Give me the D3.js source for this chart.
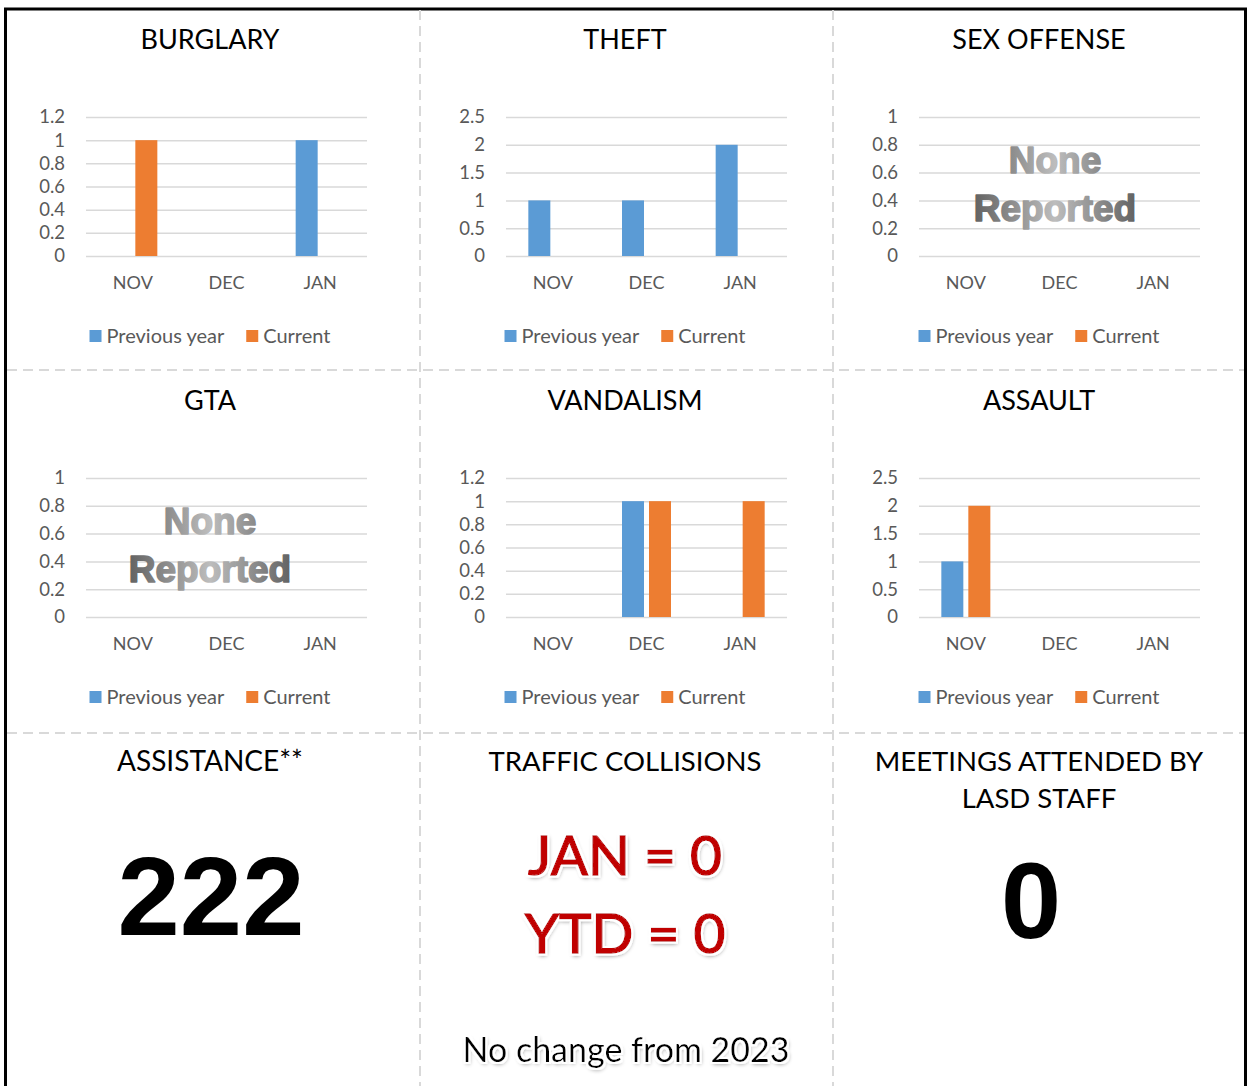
<!DOCTYPE html>
<meta charset="utf-8">
<script src="https://d3js.org/d3.v7.min.js"></script>
<style>
  body { margin: 0; background: #fff; }
  text { font-family: Lato, "Open Sans", sans-serif; }
</style>
<div id="my_dataviz"></div>
<script>
// Datos de las graficas.
var months = ["NOV", "DEC", "JAN"];
var seriesNames = ["Previous year", "Current"];
var chartTitles = ["BURGLARY", "THEFT", "SEX OFFENSE", "GTA", "VANDALISM", "ASSAULT"];

var burglaryPrev = [0, 0, 1],  burglaryCurr = [1, 0, 0];
var theftPrev = [1, 1, 2],     theftCurr = [0, 0, 0];
var sexPrev = [0, 0, 0],       sexCurr = [0, 0, 0];
var gtaPrev = [0, 0, 0],       gtaCurr = [0, 0, 0];
var vandalismPrev = [0, 1, 0], vandalismCurr = [0, 1, 1];
var assaultPrev = [1, 0, 0],   assaultCurr = [2, 0, 0];

var ticksA = [0, 0.2, 0.4, 0.6, 0.8, 1, 1.2];
var ticksB = [0, 0.5, 1, 1.5, 2, 2.5];
var ticksC = [0, 0.2, 0.4, 0.6, 0.8, 1];

var noneReported = [false, false, true, true, false, false];

var assistanceValue = "222";
var meetingsValue = "0";
var trafficLines = ["JAN = 0", "YTD = 0"];
var trafficNote = "No change from 2023";

var colors = ["#5b9bd5", "#ed7d31"];

var charts = [
  {prev: burglaryPrev, curr: burglaryCurr, ticks: ticksA},
  {prev: theftPrev, curr: theftCurr, ticks: ticksB},
  {prev: sexPrev, curr: sexCurr, ticks: ticksC},
  {prev: gtaPrev, curr: gtaCurr, ticks: ticksC},
  {prev: vandalismPrev, curr: vandalismCurr, ticks: ticksA},
  {prev: assaultPrev, curr: assaultCurr, ticks: ticksB}
];

// Disposicion general.
var W = 1248, H = 1086;
var colCenter = [210, 625, 1039];
var plotLeft = [86, 506, 919];
var plotW = 281;
var rowOffset = [0, 361];

var svg = d3.select("#my_dataviz")
  .append("svg")
  .attr("width", W)
  .attr("height", H);

var defs = svg.append("defs");

// Filtro: contorno blanco con sombra suave.
var glow = defs.append("filter").attr("id", "glow")
  .attr("x", "-10%").attr("y", "-20%").attr("width", "120%").attr("height", "150%");
glow.append("feGaussianBlur").attr("in", "SourceAlpha").attr("stdDeviation", 2).attr("result", "b");
glow.append("feOffset").attr("in", "b").attr("dx", 1).attr("dy", 2).attr("result", "o");
glow.append("feComponentTransfer").attr("in", "o").attr("result", "sh")
  .append("feFuncA").attr("type", "linear").attr("slope", 0.5);
glow.append("feMorphology").attr("in", "SourceAlpha").attr("operator", "dilate").attr("radius", 2).attr("result", "d");
glow.append("feFlood").attr("flood-color", "#fff").attr("result", "w");
glow.append("feComposite").attr("in", "w").attr("in2", "d").attr("operator", "in").attr("result", "wd");
var m = glow.append("feMerge");
m.append("feMergeNode").attr("in", "sh");
m.append("feMergeNode").attr("in", "wd");
m.append("feMergeNode").attr("in", "SourceGraphic");

svg.append("rect").attr("width", W).attr("height", H).attr("fill", "#fff");

// Marco exterior.
svg.append("path")
  .attr("d", "M5.5," + H + "V9H1245.5V" + H)
  .attr("fill", "none")
  .attr("stroke", "#000")
  .attr("stroke-width", 3);

// Divisiones punteadas.
var grid = svg.append("g")
  .attr("stroke", "#d9d9d9")
  .attr("stroke-width", 2)
  .attr("stroke-dasharray", "10,6");
[420, 833].forEach(function(x) {
  grid.append("line").attr("x1", x).attr("x2", x).attr("y1", 10).attr("y2", H);
});
[370, 733].forEach(function(y) {
  grid.append("line").attr("x1", 7).attr("x2", 1244).attr("y1", y).attr("y2", y);
});

var x0 = d3.scaleBand().domain(months).range([0, plotW]);
var x1 = d3.scaleBand().domain([0, 1]).range([-24.5, 24.5]).paddingInner(5 / 27);

charts.forEach(function(c, i) {
  var col = i % 3, row = Math.floor(i / 3);
  var off = rowOffset[row];
  var g = svg.append("g");

  g.append("text")
    .attr("x", colCenter[col]).attr("y", 49 + off)
    .attr("text-anchor", "middle")
    .attr("font-size", 27)
    .attr("fill", "#000")
    .text(chartTitles[i]);

  var y = d3.scaleLinear()
    .domain([0, d3.max(c.ticks)])
    .range([256 + off, 117 + off]);

  var p = g.append("g").attr("transform", "translate(" + plotLeft[col] + ",0)");

  // Lineas de la cuadricula.
  p.append("g")
    .call(d3.axisLeft(y).tickValues(c.ticks).tickSize(-plotW).tickFormat(""))
    .call(function(a) {
      a.select(".domain").remove();
      a.selectAll("line").attr("stroke", "#d9d9d9").attr("stroke-width", 1.5);
    });

  // Etiquetas del eje y.
  p.append("g")
    .attr("transform", "translate(-21,0)")
    .call(d3.axisLeft(y).tickValues(c.ticks).tickSize(0).tickPadding(0).tickFormat(d3.format("")))
    .call(function(a) {
      a.select(".domain").remove();
      a.selectAll("text").attr("font-size", 18.5).attr("fill", "#595959")
        .style("font-family", "Lato, sans-serif");
    });

  // Etiquetas del eje x.
  p.append("g")
    .attr("transform", "translate(0," + (283 + off) + ")")
    .call(d3.axisBottom(x0).tickSize(0).tickPadding(0))
    .call(function(a) {
      a.select(".domain").remove();
      a.selectAll("text").attr("font-size", 18).attr("fill", "#595959")
        .attr("dy", "0.35em")
        .style("font-family", "Lato, sans-serif");
    });

  // Barras.
  var data = [];
  months.forEach(function(mo, k) {
    data.push({m: mo, s: 0, v: c.prev[k]});
    data.push({m: mo, s: 1, v: c.curr[k]});
  });
  p.append("g").selectAll("rect")
    .data(data.filter(function(d) { return d.v > 0; }))
    .enter().append("rect")
    .attr("x", function(d) { return x0(d.m) + x0.bandwidth() / 2 + x1(d.s); })
    .attr("width", x1.bandwidth())
    .attr("y", function(d) { return y(d.v); })
    .attr("height", function(d) { return y(0) - y(d.v); })
    .attr("fill", function(d) { return colors[d.s]; });

  // Leyenda.
  var lg = g.append("g");
  var lx = 0;
  seriesNames.forEach(function(n, k) {
    lg.append("rect").attr("x", lx).attr("y", 330 + off).attr("width", 12).attr("height", 12)
      .attr("fill", colors[k]);
    var t = lg.append("text").attr("x", lx + 17).attr("y", 343 + off)
      .attr("font-size", 20).attr("fill", "#595959").text(n);
    lx += 17 + t.node().getComputedTextLength() + 22;
  });
  var bb = lg.node().getBBox();
  lg.attr("transform", "translate(" + (colCenter[col] - bb.x - bb.width / 2) + ",0)");

  // Texto "None Reported".
  if (noneReported[i]) {
    var cx = col === 0 ? 210 : 1055;
    var gid = "gr" + i;
    var gr = defs.append("linearGradient").attr("id", gid)
      .attr("gradientUnits", "userSpaceOnUse")
      .attr("x1", cx - 85).attr("x2", cx + 85).attr("y1", 0).attr("y2", 0);
    gr.append("stop").attr("offset", "0%").attr("stop-color", "#5e5e5e");
    gr.append("stop").attr("offset", "50%").attr("stop-color", "#bdbdbd");
    gr.append("stop").attr("offset", "100%").attr("stop-color", "#5e5e5e");
    ["None", "Reported"].forEach(function(w, k) {
      g.append("text")
        .attr("x", cx).attr("y", 173 + k * 48 + off)
        .attr("text-anchor", "middle")
        .attr("font-size", 37).attr("font-weight", "bold")
        .style("font-family", "'Liberation Sans', Arial, sans-serif")
        .attr("fill", "url(#" + gid + ")")
        .attr("stroke", "url(#" + gid + ")").attr("stroke-width", 1.6)
        .attr("stroke-linejoin", "round")
        .text(w);
    });
  }
});

// Fila inferior.
var bottom = svg.append("g");
bottom.append("text").attr("x", 210).attr("y", 771).attr("text-anchor", "middle")
  .attr("font-size", 28).text("ASSISTANCE**");
bottom.append("text").attr("x", 625).attr("y", 771).attr("text-anchor", "middle")
  .attr("font-size", 27.5).text("TRAFFIC COLLISIONS");
bottom.append("text").attr("x", 1039).attr("y", 771).attr("text-anchor", "middle")
  .attr("font-size", 27.5).text("MEETINGS ATTENDED BY");
bottom.append("text").attr("x", 1039).attr("y", 808).attr("text-anchor", "middle")
  .attr("font-size", 27.5).text("LASD STAFF");

bottom.append("text").attr("x", 211).attr("y", 935).attr("text-anchor", "middle")
  .attr("font-size", 112).attr("font-weight", "bold")
  .style("font-family", "'Liberation Sans', Arial, sans-serif")
  .text(assistanceValue);
bottom.append("text").attr("x", 1031).attr("y", 938).attr("text-anchor", "middle")
  .attr("font-size", 108).attr("font-weight", "bold")
  .style("font-family", "'Liberation Sans', Arial, sans-serif")
  .text(meetingsValue);

trafficLines.forEach(function(t, k) {
  bottom.append("text").attr("x", 625).attr("y", 875 + k * 78).attr("text-anchor", "middle")
    .attr("font-size", 55).attr("fill", "#c00000")
    .attr("stroke", "#c00000").attr("stroke-width", 1.4)
    .attr("filter", "url(#glow)")
    .text(t);
});
bottom.append("text").attr("x", 626).attr("y", 1062).attr("text-anchor", "middle")
  .attr("font-size", 34).attr("fill", "#000")
  .attr("filter", "url(#glow)")
  .text(trafficNote);
</script>
